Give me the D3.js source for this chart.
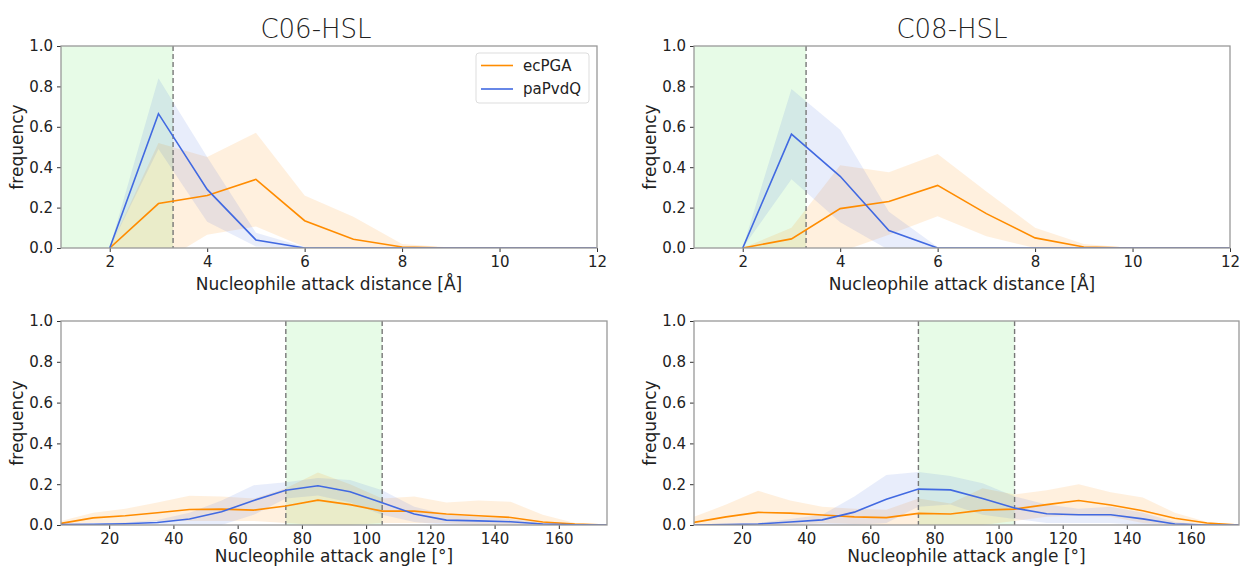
<!DOCTYPE html>
<html><head><meta charset="utf-8">
<script src="https://cdn.jsdelivr.net/npm/d3@7"></script>
<style>
html,body{margin:0;padding:0;background:#fff;}
svg{display:block;}
text{font-family:"DejaVu Sans",sans-serif;fill:#222;}
</style></head>
<body><svg id="c" width="1240" height="567"></svg>
<script>
// ---------- data ----------
const titles = ["C06-HSL", "C08-HSL"];
const seriesNames = ["ecPGA", "paPvdQ"];
const distX = [2,3,4,5,6,7,8,9,10,11,12];
const distTicks = [2,4,6,8,10,12];
const angX = [5,15,25,35,45,55,65,75,85,95,105,115,125,135,145,155,165,175];
const angTicks = [20,40,60,80,100,120,140,160];
const yTicks = [0,0.2,0.4,0.6,0.8,1.0];

// C06 distance
const c06DistOrange   = [0,0.22,0.26,0.34,0.135,0.043,0.005,0,0,0,0];
const c06DistOrangeHi = [0,0.52,0.45,0.57,0.26,0.155,0.02,0.002,0,0,0];
const c06DistOrangeLo = [0,-0.08,0.066,0.107,0.005,-0.02,-0.01,0,0,0,0];
const c06DistBlue     = [0,0.665,0.29,0.04,0,0,0,0,0,0,0];
const c06DistBlueHi   = [0,0.84,0.45,0.075,0.005,0,0,0,0,0,0];
const c06DistBlueLo   = [0,0.49,0.13,0.008,0,0,0,0,0,0,0];
// C08 distance
const c08DistOrange   = [0,0.045,0.195,0.23,0.31,0.17,0.05,0.005,0,0,0];
const c08DistOrangeHi = [0,0.10,0.41,0.375,0.465,0.28,0.10,0.02,0,0,0];
const c08DistOrangeLo = [0,-0.01,-0.02,0.066,0.157,0.058,0,-0.01,0,0,0];
const c08DistBlue     = [0,0.564,0.355,0.086,0,0,0,0,0,0,0];
const c08DistBlueHi   = [0,0.787,0.586,0.18,0.005,0,0,0,0,0,0];
const c08DistBlueLo   = [0,0.34,0.127,-0.01,0,0,0,0,0,0,0];
// C06 angle
const c06AngOrange   = [0.008,0.035,0.045,0.06,0.076,0.078,0.073,0.093,0.122,0.1,0.068,0.068,0.054,0.045,0.037,0.015,0.005,0];
const c06AngOrangeHi = [0.02,0.06,0.08,0.11,0.143,0.14,0.13,0.18,0.257,0.2,0.13,0.14,0.11,0.12,0.114,0.05,0.01,0];
const c06AngOrangeLo = [0,0.01,0.01,0.02,0.02,0.02,0.02,0.01,0,0,0.01,0.01,0.01,0,0,0,0,0];
const c06AngBlue     = [0.002,0.003,0.006,0.012,0.029,0.065,0.12,0.17,0.192,0.163,0.109,0.054,0.024,0.02,0.016,0.005,0.001,0];
const c06AngBlueHi   = [0.004,0.006,0.012,0.025,0.06,0.12,0.195,0.21,0.23,0.22,0.17,0.09,0.05,0.04,0.03,0.01,0.002,0];
const c06AngBlueLo   = [0,0,0,0,0,0,0.05,0.13,0.145,0.11,0.05,0.015,0,0,0,0,0,0];
// C08 angle
const c08AngOrange   = [0.013,0.04,0.062,0.058,0.049,0.04,0.036,0.057,0.054,0.073,0.078,0.10,0.12,0.098,0.07,0.033,0.01,0];
const c08AngOrangeHi = [0.04,0.1,0.168,0.12,0.09,0.08,0.075,0.13,0.105,0.18,0.15,0.17,0.2,0.16,0.135,0.06,0.015,0];
const c08AngOrangeLo = [0,0,0,0,0.01,0.005,0,0,0,0,0.02,0.04,0.045,0.04,0.01,0,0,0];
const c08AngBlue     = [0,0.002,0.005,0.015,0.025,0.063,0.126,0.176,0.172,0.13,0.083,0.055,0.05,0.05,0.03,0.005,0,0];
const c08AngBlueHi   = [0,0.004,0.01,0.03,0.05,0.14,0.245,0.26,0.24,0.205,0.14,0.10,0.08,0.09,0.06,0.015,0,0];
const c08AngBlueLo   = [0,0,0,0,0,0,0.01,0.09,0.1,0.05,0.03,0.01,0.01,0.01,0,0,0,0];

const distShade = [1, 3.3];
const angShade = [75, 105];

// ---------- drawing ----------
const ORANGE = "#ff8c00", BLUE = "#4169e1";
const svg = d3.select("#c");

const panels = [
  {x0:61, x1:597, y0:46, y1:248, dom:[1,12], xs:distX, ticks:distTicks, shade:distShade, dash:[3.3], lab:42,
   xlabel:"Nucleophile attack distance [Å]", o:[c06DistOrange,c06DistOrangeHi,c06DistOrangeLo], b:[c06DistBlue,c06DistBlueHi,c06DistBlueLo], legend:true},
  {x0:694, x1:1230, y0:46, y1:248, dom:[1,12], xs:distX, ticks:distTicks, shade:distShade, dash:[3.3], lab:42,
   xlabel:"Nucleophile attack distance [Å]", o:[c08DistOrange,c08DistOrangeHi,c08DistOrangeLo], b:[c08DistBlue,c08DistBlueHi,c08DistBlueLo]},
  {x0:61, x1:607, y0:321, y1:525, dom:[5,175], xs:angX, ticks:angTicks, shade:angShade, dash:angShade, lab:37,
   xlabel:"Nucleophile attack angle [°]", o:[c06AngOrange,c06AngOrangeHi,c06AngOrangeLo], b:[c06AngBlue,c06AngBlueHi,c06AngBlueLo]},
  {x0:694, x1:1239, y0:321, y1:525, dom:[5,175], xs:angX, ticks:angTicks, shade:angShade, dash:angShade, lab:37,
   xlabel:"Nucleophile attack angle [°]", o:[c08AngOrange,c08AngOrangeHi,c08AngOrangeLo], b:[c08AngBlue,c08AngBlueHi,c08AngBlueLo]}
];

panels.forEach((p, i) => {
  const x = d3.scaleLinear().domain(p.dom).range([p.x0, p.x1]);
  const y = d3.scaleLinear().domain([0,1]).range([p.y1, p.y0]);
  const g = svg.append("g");
  const cid = "clip" + i;
  svg.append("clipPath").attr("id", cid).append("rect")
    .attr("x", p.x0).attr("y", p.y0).attr("width", p.x1 - p.x0).attr("height", p.y1 - p.y0);
  const plot = g.append("g").attr("clip-path", `url(#${cid})`);

  plot.append("rect").attr("x", x(p.shade[0])).attr("y", p.y0)
    .attr("width", x(p.shade[1]) - x(p.shade[0])).attr("height", p.y1 - p.y0)
    .attr("fill", "#90ee90").attr("fill-opacity", 0.22);

  const area = d3.area().x((d,k) => x(p.xs[k])).y0(d => y(d[1])).y1(d => y(d[0]));
  const line = d3.line().x((d,k) => x(p.xs[k])).y(d => y(d));
  const bandData = (arr) => arr[1].map((h,k) => [h, arr[2][k]]);

  plot.append("path").attr("d", area(bandData(p.o))).attr("fill", ORANGE).attr("fill-opacity", 0.13);
  plot.append("path").attr("d", area(bandData(p.b))).attr("fill", BLUE).attr("fill-opacity", 0.12);

  p.dash.forEach(v => {
    plot.append("line").attr("x1", x(v)).attr("x2", x(v)).attr("y1", p.y0).attr("y2", p.y1)
      .attr("stroke", "#777").attr("stroke-width", 1.4).attr("stroke-dasharray", "5,3");
  });

  plot.append("path").attr("d", line(p.o[0])).attr("fill","none").attr("stroke", ORANGE).attr("stroke-width", 1.6);
  plot.append("path").attr("d", line(p.b[0])).attr("fill","none").attr("stroke", BLUE).attr("stroke-width", 1.6);

  const xa = g.append("g").attr("transform", `translate(0,${p.y1})`)
    .call(d3.axisBottom(x).tickValues(p.ticks).tickSize(4).tickPadding(4).tickFormat(d3.format("d")));
  const ya = g.append("g").attr("transform", `translate(${p.x0},0)`)
    .call(d3.axisLeft(y).tickValues(yTicks).tickSize(4).tickPadding(4).tickFormat(d3.format(".1f")));
  [xa, ya].forEach(a => {
    a.select(".domain").remove();
    a.selectAll(".tick line").attr("stroke", "#333");
    a.selectAll(".tick text").attr("font-size", 15).attr("font-family", "DejaVu Sans").attr("fill", "#222");
  });
  g.append("rect").attr("x", p.x0).attr("y", p.y0).attr("width", p.x1 - p.x0).attr("height", p.y1 - p.y0)
    .attr("fill", "none").attr("stroke", "#999").attr("stroke-width", 1.3);

  g.append("text").attr("x", (p.x0 + p.x1)/2).attr("y", p.y1 + p.lab).attr("text-anchor", "middle")
    .attr("font-size", 17).text(p.xlabel);
  g.append("text").attr("transform", `translate(${p.x0 - 38},${(p.y0+p.y1)/2}) rotate(-90)`)
    .attr("text-anchor", "middle").attr("font-size", 17).text("frequency");

  if (p.legend) {
    const lg = g.append("g");
    lg.append("rect").attr("x", 476).attr("y", 53).attr("width", 113).attr("height", 50).attr("rx", 3)
      .attr("fill", "#fff").attr("fill-opacity", 0.8).attr("stroke", "#ddd");
    [ORANGE, BLUE].forEach((c, k) => {
      const yy = 65.5 + k * 23.5;
      lg.append("line").attr("x1", 481).attr("x2", 513).attr("y1", yy).attr("y2", yy).attr("stroke", c).attr("stroke-width", 1.6);
      lg.append("text").attr("x", 523).attr("y", yy + 5).attr("font-size", 15).text(seriesNames[k]);
    });
  }
});

svg.append("text").attr("x", 316).attr("y", 38).attr("text-anchor", "middle")
  .attr("font-family", "Open Sans").attr("font-weight", 300).attr("font-size", 26).text(titles[0]);
svg.append("text").attr("x", 952).attr("y", 38).attr("text-anchor", "middle")
  .attr("font-family", "Open Sans").attr("font-weight", 300).attr("font-size", 26).text(titles[1]);
</script></body></html>
